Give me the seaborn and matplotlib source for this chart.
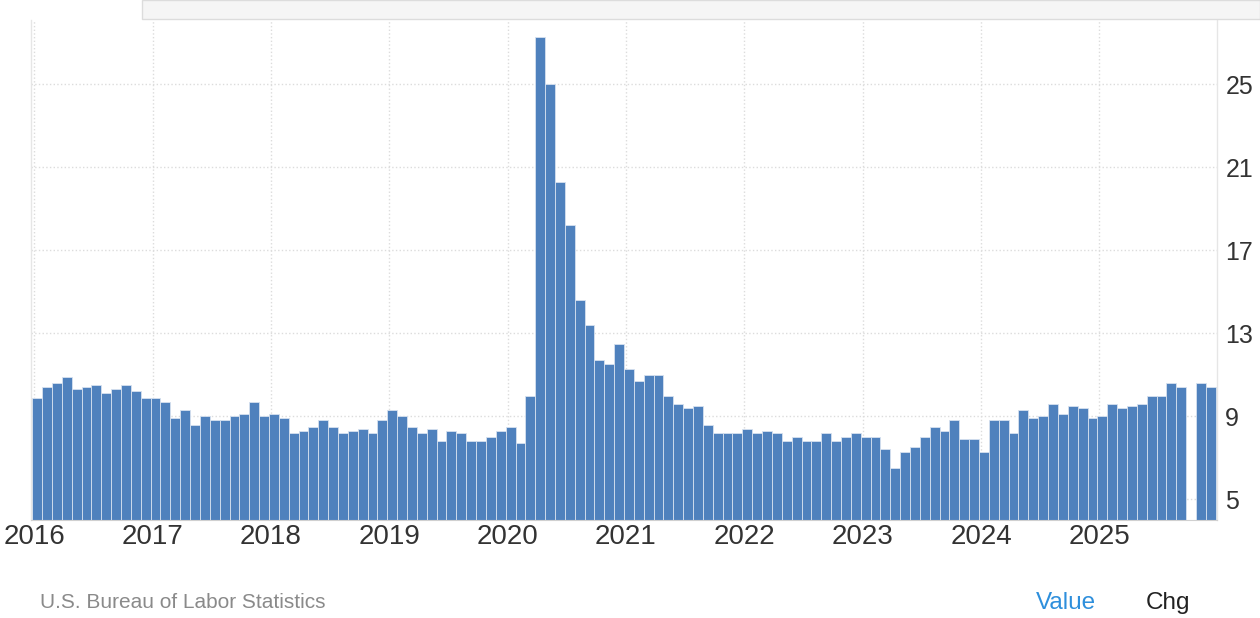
import numpy as np
import pandas as pd
import matplotlib
matplotlib.use("Agg")
import matplotlib.pyplot as plt
from matplotlib.patches import Rectangle
import seaborn as sns

# ── data (monthly, Jan 2016 .. Dec 2025; Oct 2025 not published) ──
years = list(range(2016, 2026))
values_2016 = [9.9, 10.4, 10.6, 10.9, 10.3, 10.4, 10.5, 10.1, 10.3, 10.5, 10.2, 9.9]
values_2017 = [9.9, 9.7, 8.9, 9.3, 8.6, 9.0, 8.8, 8.8, 9.0, 9.1, 9.7, 9.0]
values_2018 = [9.1, 8.9, 8.2, 8.3, 8.5, 8.8, 8.5, 8.2, 8.3, 8.4, 8.2, 8.8]
values_2019 = [9.3, 9.0, 8.5, 8.2, 8.4, 7.8, 8.3, 8.2, 7.8, 7.8, 8.0, 8.3]
values_2020 = [8.5, 7.7, 10.0, 27.3, 25.0, 20.3, 18.2, 14.6, 13.4, 11.7, 11.5, 12.5]
values_2021 = [11.3, 10.7, 11.0, 11.0, 10.0, 9.6, 9.4, 9.5, 8.6, 8.2, 8.2, 8.2]
values_2022 = [8.4, 8.2, 8.3, 8.2, 7.8, 8.0, 7.8, 7.8, 8.2, 7.8, 8.0, 8.2]
values_2023 = [8.0, 8.0, 7.4, 6.5, 7.3, 7.5, 8.0, 8.5, 8.3, 8.8, 7.9, 7.9]
values_2024 = [7.3, 8.8, 8.8, 8.2, 9.3, 8.9, 9.0, 9.6, 9.1, 9.5, 9.4, 8.9]
values_2025 = [9.0, 9.6, 9.4, 9.5, 9.6, 10.0, 10.0, 10.6, 10.4, np.nan, 10.6, 10.4]

y_ticks = [5, 9, 13, 17, 21, 25]
source_text = "U.S. Bureau of Labor Statistics"

all_values = (values_2016 + values_2017 + values_2018 + values_2019 + values_2020
              + values_2021 + values_2022 + values_2023 + values_2024 + values_2025)
months = [f"{y}-{m:02d}" for y in years for m in range(1, 13)]
df = pd.DataFrame({"month": months, "value": all_values})

# ── style ──
sns.set_style("white")
plt.rcParams["font.family"] = ["Liberation Sans", "DejaVu Sans"]

BAR = "#4f81bd"
GRID = "#dcdcdc"

fig = plt.figure(figsize=(12.6, 6.18), dpi=100)
ax = fig.add_axes([31 / 1260, 1 - 520 / 618, (1217 - 31) / 1260, 500 / 618])

sns.barplot(data=df, x="month", y="value", order=months, color=BAR,
            saturation=1, width=1.0, edgecolor="#d6e1ef", linewidth=0.6,
            ax=ax, errorbar=None)

ax.set_xlim(-0.63, 119.63)
ax.set_ylim(4, 28.1)

# year ticks sit just before each January bar
ax.set_xticks([12 * k - 0.3 for k in range(len(years))])
ax.set_xticklabels([str(y) for y in years], fontsize=20, color="#333333")
ax.yaxis.tick_right()
ax.set_yticks(y_ticks)
ax.set_yticklabels([str(v) for v in y_ticks], fontsize=18, color="#333333")
ax.tick_params(axis="both", length=0)
ax.tick_params(axis="y", pad=6)
ax.tick_params(axis="x", pad=3)
ax.set_xlabel("")
ax.set_ylabel("")

ax.grid(True, color=GRID, linestyle=":", linewidth=1)
ax.set_axisbelow(True)

for side in ["left", "right"]:
    ax.spines[side].set_color("#e6e6e6")
    ax.spines[side].set_linewidth(1)
ax.spines["bottom"].set_color("#d0d0d0")
ax.spines["top"].set_visible(False)

# header strip at the top
fig.patches.append(Rectangle((142 / 1260, 1 - 19 / 618), 1 - 142 / 1260, 19 / 618,
                             transform=fig.transFigure, facecolor="#f5f5f5",
                             edgecolor="#dcdcdc", linewidth=1, zorder=0))

# footer
fig.text(40 / 1260, 1 - 603 / 618, source_text, fontsize=15, color="#8a8a8a",
         va="center", ha="left")
fig.text(1036 / 1260, 1 - 603 / 618, "Value", fontsize=17.5, color="#2e8fdc",
         va="center", ha="left")
fig.text(1146 / 1260, 1 - 603 / 618, "Chg", fontsize=17.5, color="#222222",
         va="center", ha="left")

fig.savefig("out.png", dpi=100)
